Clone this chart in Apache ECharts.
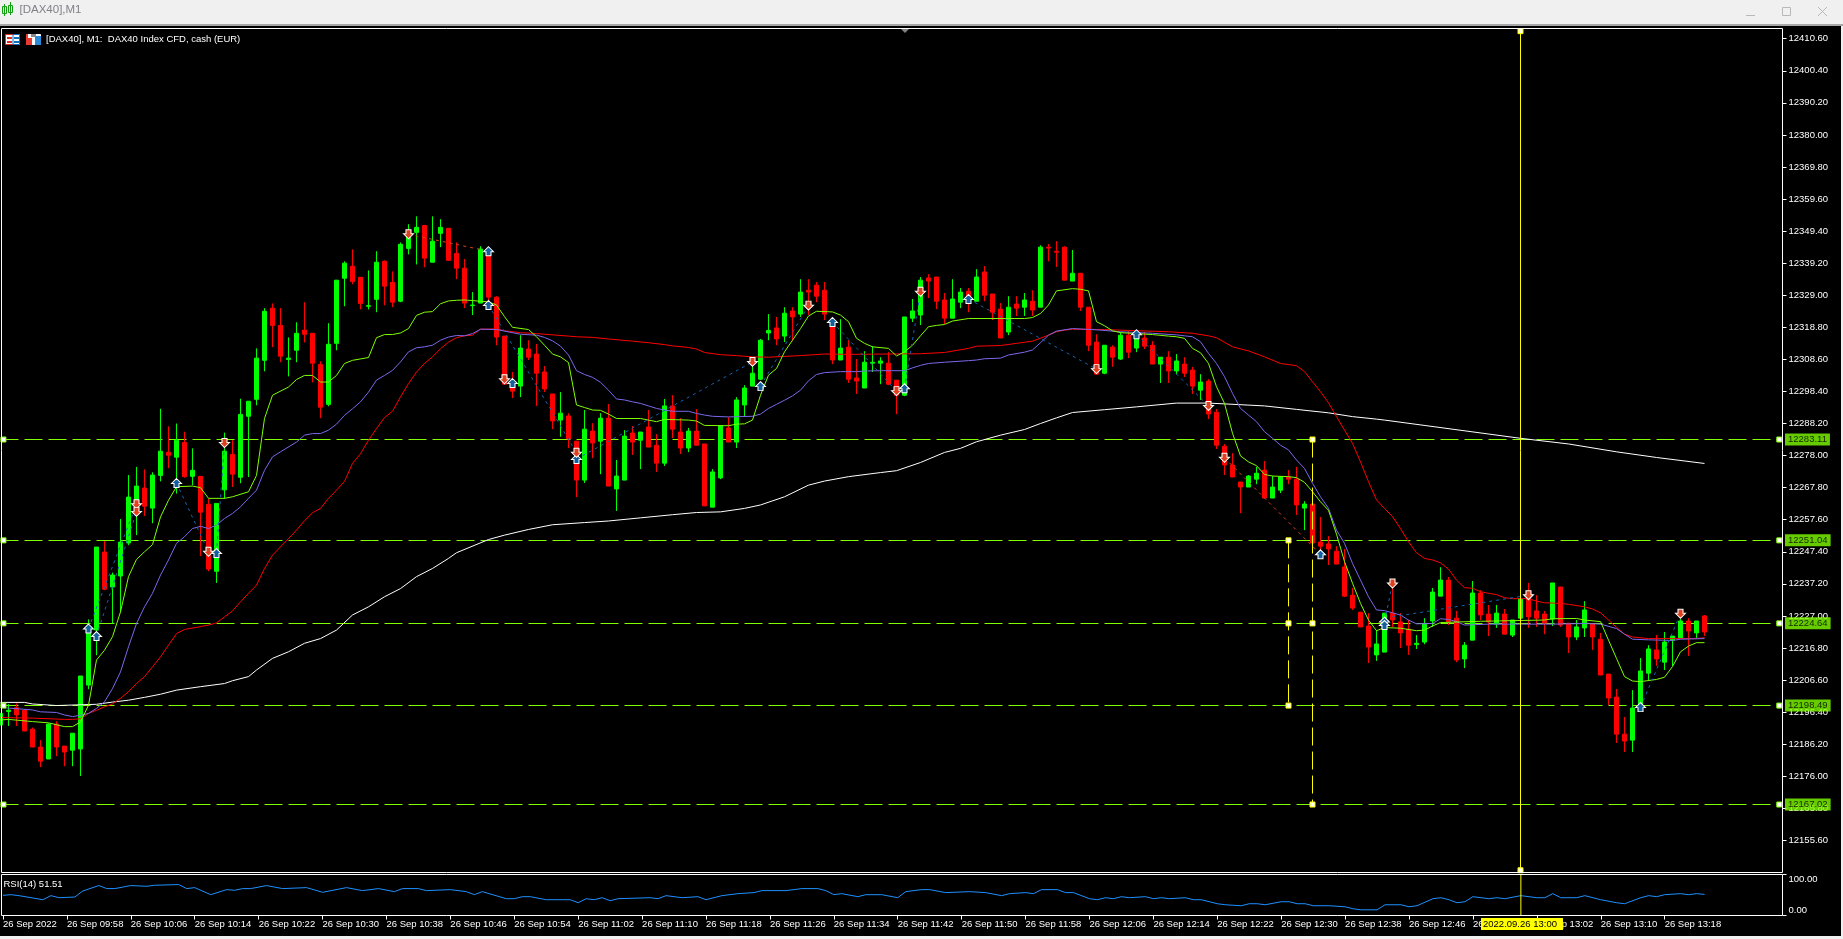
<!DOCTYPE html>
<html><head><meta charset="utf-8">
<style>html,body{margin:0;padding:0;background:#f0f0f0;overflow:hidden}#c{width:1843px;height:939px}</style>
<script src="https://cdn.jsdelivr.net/npm/echarts@6/dist/echarts.min.js"></script>
</head><body><div id="c"></div><script>
const opens=[12192.3,12196.6,12197.8,12197.0,12191.0,12185.3,12181.5,12192.6,12185.6,12184.3,
12184.7,12205.0,12222.5,12247.3,12236.2,12239.7,12250.2,12264.1,12267.7,12261.3,
12271.7,12279.1,12277.5,12282.2,12271.4,12271.4,12262.5,12241.2,12267.1,12278.4,
12271.1,12290.5,12295.9,12308.3,12324.9,12319.4,12308.6,12311.5,12317.9,12316.9,
12307.0,12294.3,12313.7,12334.4,12338.2,12334.7,12325.5,12327.7,12339.8,12333.1,
12327.1,12343.9,12349.0,12351.2,12339.5,12348.7,12350.3,12342.3,12337.6,12325.7,
12326.5,12341.8,12328.4,12316.0,12299.8,12300.1,12311.9,12310.3,12304.6,12297.6,
12289.3,12290.6,12282.6,12270.2,12285.8,12282.6,12289.9,12267.4,12270.2,12285.2,
12282.9,12287.1,12281.3,12275.6,12293.8,12285.5,12280.4,12285.8,12281.7,12261.6,
12270.9,12286.8,12282.3,12294.1,12300.1,12302.3,12317.0,12318.6,12316.0,12324.0,
12323.0,12330.6,12332.2,12330.6,12319.5,12308.4,12312.5,12302.7,12299.5,12307.4,
12307.4,12307.4,12302.0,12297.2,12321.7,12322.7,12334.5,12334.8,12327.5,12321.7,
12326.8,12330.3,12327.1,12336.4,12329.4,12324.6,12317.3,12326.2,12325.2,12327.1,
12325.2,12344.3,12343.0,12344.3,12333.5,12336.0,12325.2,12314.1,12304.2,12312.5,
12308.7,12316.3,12312.2,12315.4,12313.1,12307.1,12309.3,12304.9,12307.1,12305.2,
12298.8,12301.7,12291.8,12281.0,12275.0,12269.6,12268.0,12270.5,12273.4,12264.5,
12267.0,12271.2,12270.5,12261.3,12262.6,12250.5,12249.9,12247.6,12242.6,12233.6,
12228.2,12223.8,12214.6,12215.5,12227.9,12225.1,12222.8,12217.9,12218.7,12225.4,
12233.3,12238.4,12226.3,12213.3,12219.3,12234.3,12227.6,12224.4,12227.6,12220.9,
12226.3,12233.0,12228.6,12227.6,12226.0,12236.2,12224.7,12220.3,12223.2,12224.4,
12219.6,12208.5,12201.2,12189.4,12187.5,12198.7,12208.8,12216.2,12212.3,12219.3,
12220.0,12225.4,12221.6,12227.0];
const closes=[12196.0,12197.0,12195.5,12190.4,12185.3,12180.8,12192.6,12185.3,12183.7,12189.7,
12207.9,12222.5,12248.9,12235.5,12240.0,12250.5,12264.8,12268.3,12261.9,12271.8,
12279.4,12278.1,12282.9,12271.3,12273.3,12260.0,12241.9,12262.8,12279.4,12272.1,
12291.1,12295.3,12309.0,12323.9,12319.4,12309.6,12309.0,12316.9,12316.6,12307.4,
12293.4,12313.4,12333.8,12339.2,12333.4,12326.4,12325.7,12339.5,12331.9,12326.8,
12345.2,12348.1,12350.6,12340.8,12346.2,12350.6,12340.1,12337.6,12326.5,12325.9,
12343.7,12328.4,12315.7,12300.7,12298.5,12312.2,12309.3,12304.2,12299.2,12289.0,
12291.5,12283.3,12270.2,12286.4,12282.0,12289.9,12268.3,12271.5,12284.2,12282.3,
12285.5,12280.7,12275.6,12293.8,12286.4,12280.4,12285.8,12281.3,12262.0,12272.8,
12287.4,12282.3,12295.7,12299.5,12304.2,12314.7,12317.8,12315.1,12323.3,12322.1,
12330.0,12330.0,12328.7,12323.0,12308.4,12312.2,12302.3,12301.7,12307.7,12307.7,
12308.1,12300.7,12297.2,12322.1,12324.0,12333.8,12333.5,12327.1,12321.7,12327.8,
12330.0,12327.5,12334.8,12329.0,12323.6,12315.4,12325.2,12324.9,12327.5,12324.3,
12344.3,12344.0,12342.7,12333.8,12336.0,12325.2,12313.1,12303.9,12313.1,12309.3,
12316.3,12310.9,12316.0,12312.8,12307.1,12309.3,12304.9,12308.1,12304.2,12300.1,
12301.4,12291.2,12281.3,12275.0,12271.2,12268.0,12271.5,12272.4,12264.5,12268.0,
12271.2,12270.5,12262.3,12262.6,12250.2,12249.2,12248.3,12243.5,12233.3,12229.5,
12223.5,12217.1,12218.1,12227.9,12225.7,12221.6,12217.7,12218.3,12224.4,12234.6,
12238.4,12225.1,12213.0,12217.7,12234.3,12227.3,12225.1,12227.9,12221.2,12225.7,
12232.4,12226.7,12226.3,12224.7,12237.5,12224.1,12220.3,12223.5,12228.9,12220.3,
12208.2,12200.9,12189.4,12187.2,12197.7,12209.5,12216.5,12213.3,12218.7,12220.6,
12225.4,12222.2,12225.4,12221.9];
const lows=[12192.3,12192.0,12192.0,12190.4,12185.3,12178.9,12181.5,12182.4,12179.2,12179.2,
12176.1,12203.7,12214.5,12235.2,12224.6,12228.3,12249.5,12252.7,12258.8,12256.5,
12269.8,12274.0,12265.9,12271.0,12268.6,12246.0,12241.2,12237.5,12264.3,12268.0,
12269.2,12271.2,12294.0,12304.8,12312.5,12307.7,12303.2,12307.7,12314.0,12301.3,
12289.9,12293.7,12311.5,12325.5,12332.5,12324.5,12324.5,12323.6,12325.8,12325.2,
12326.8,12342.0,12338.8,12337.9,12339.5,12344.3,12340.1,12334.1,12324.9,12322.7,
12326.5,12325.9,12313.1,12300.7,12296.3,12296.6,12308.4,12293.8,12298.2,12286.4,
12284.0,12280.4,12264.8,12269.3,12277.2,12272.1,12268.3,12260.4,12270.2,12278.2,
12273.7,12280.7,12272.8,12274.7,12283.6,12278.5,12279.1,12281.3,12262.0,12261.6,
12270.5,12282.3,12280.4,12290.6,12300.1,12302.0,12314.7,12313.1,12314.1,12314.4,
12322.1,12322.7,12326.8,12321.1,12307.1,12308.4,12301.1,12297.6,12299.5,12304.6,
12300.7,12300.4,12291.2,12296.9,12320.5,12319.5,12328.1,12324.6,12319.8,12321.7,
12324.9,12323.6,12327.1,12327.1,12321.1,12315.4,12316.3,12322.4,12322.4,12322.4,
12325.2,12339.8,12338.0,12333.8,12333.5,12324.0,12311.2,12303.9,12303.9,12306.2,
12308.4,12309.0,12310.9,12311.9,12307.1,12301.1,12301.1,12303.9,12303.0,12297.6,
12295.7,12289.6,12280.1,12271.8,12271.2,12259.7,12268.0,12268.9,12264.5,12264.5,
12266.1,12268.9,12259.1,12254.3,12250.2,12245.4,12243.2,12243.5,12233.0,12228.9,
12223.5,12212.0,12212.7,12215.5,12223.5,12216.8,12214.6,12216.5,12218.0,12223.5,
12233.3,12224.1,12212.3,12210.4,12219.3,12225.7,12220.6,12223.2,12221.2,12220.3,
12225.1,12223.2,12223.5,12221.2,12223.8,12223.5,12215.2,12219.3,12220.3,12216.2,
12208.2,12198.7,12186.6,12183.7,12183.7,12198.7,12206.6,12211.1,12209.8,12211.1,
12220.0,12214.3,12220.0,12220.6];
const highs=[12196.0,12199.0,12199.2,12197.3,12191.5,12187.5,12192.8,12193.5,12185.6,12189.7,
12207.9,12225.9,12248.9,12250.8,12240.8,12257.8,12271.8,12274.4,12273.6,12272.7,
12292.9,12287.3,12288.2,12285.6,12280.3,12271.4,12264.3,12262.8,12285.3,12282.9,
12296.1,12295.3,12312.1,12324.9,12326.4,12324.9,12315.6,12320.4,12326.8,12316.9,
12308.0,12320.1,12333.8,12339.8,12343.6,12334.7,12336.9,12343.0,12340.1,12336.6,
12345.8,12351.6,12354.1,12351.2,12354.1,12353.2,12350.3,12345.8,12340.5,12330.0,
12344.6,12343.4,12328.7,12316.0,12304.6,12316.3,12314.7,12313.5,12306.5,12297.6,
12298.2,12291.5,12282.6,12292.5,12288.3,12291.5,12294.4,12276.6,12286.1,12287.4,
12285.5,12292.5,12284.8,12296.0,12297.2,12289.9,12286.8,12292.8,12281.7,12273.7,
12287.4,12290.2,12296.6,12300.4,12306.8,12315.1,12323.0,12322.1,12325.2,12325.2,
12334.1,12334.1,12333.2,12333.2,12321.6,12321.4,12314.7,12308.7,12311.2,12312.8,
12309.3,12310.9,12302.0,12322.1,12327.8,12334.8,12335.7,12334.8,12329.7,12334.1,
12331.3,12331.3,12337.3,12338.3,12329.4,12326.5,12328.7,12328.7,12329.7,12330.6,
12344.9,12345.3,12346.2,12344.6,12343.4,12336.0,12325.2,12316.6,12313.1,12313.1,
12317.3,12317.6,12317.9,12317.3,12314.4,12309.3,12311.2,12310.3,12309.3,12306.2,
12303.9,12302.3,12292.8,12281.7,12278.8,12269.6,12271.8,12274.4,12276.3,12271.5,
12271.5,12273.4,12274.4,12263.5,12262.6,12258.5,12252.4,12249.2,12248.3,12235.9,
12228.2,12227.9,12222.5,12227.9,12236.8,12227.9,12225.7,12220.9,12226.3,12235.9,
12242.5,12239.4,12228.6,12218.7,12238.1,12235.2,12230.5,12230.5,12229.2,12225.7,
12232.4,12237.5,12233.6,12228.6,12237.5,12236.2,12224.7,12225.7,12231.7,12224.4,
12221.6,12208.5,12203.8,12194.9,12203.4,12213.6,12217.7,12220.9,12221.9,12220.6,
12226.0,12226.3,12225.4,12227.3];

const limeLine=[[0,12193.9],[1,12194.1],[4,12193.4],[6,12193.0],[8,12191.8],[9,12191.8],[10,12193.3],[11,12198.6],[12,12213.0],[13,12216.1],[14,12220.4],[15,12228.3],[16,12239.5],[17,12245.0],[18,12247.4],[19,12249.7],[20,12258.5],[21,12263.8],[22,12268.1],[24,12268.3],[25,12267.8],[26,12264.4],[28,12264.4],[29,12264.9],[31,12266.5],[32,12271.7],[33,12289.8],[34,12297.2],[36,12299.8],[37,12302.2],[38,12303.5],[39,12303.5],[40,12301.4],[41,12301.4],[42,12303.5],[43,12307.3],[44,12308.3],[46,12309.2],[47,12315.5],[48,12316.5],[49,12316.5],[50,12317.0],[51,12318.4],[52,12322.6],[53,12323.6],[54,12323.8],[55,12326.3],[56,12327.2],[57,12327.4],[58,12327.5],[60,12327.1],[61,12326.9],[62,12325.9],[63,12322.2],[64,12318.8],[66,12318.1],[67,12315.8],[68,12313.1],[69,12310.3],[70,12309.4],[71,12307.6],[72,12294.1],[73,12293.3],[74,12292.5],[75,12292.4],[76,12291.2],[77,12289.8],[80,12289.8],[82,12288.8],[83,12289.5],[86,12289.3],[87,12289.0],[88,12287.6],[91,12287.5],[92,12288.0],[93,12288.1],[94,12289.3],[95,12297.2],[96,12303.6],[97,12305.7],[98,12311.0],[99,12314.7],[100,12318.4],[101,12322.4],[102,12323.9],[104,12323.7],[105,12322.7],[106,12320.6],[107,12315.3],[108,12313.7],[109,12312.6],[111,12312.1],[112,12309.7],[113,12311.0],[114,12313.1],[115,12316.1],[116,12319.0],[117,12319.4],[118,12319.7],[119,12320.8],[121,12321.6],[128,12321.6],[129,12321.9],[130,12323.2],[131,12325.9],[132,12330.4],[134,12331.1],[135,12330.9],[136,12330.4],[137,12320.6],[138,12319.3],[139,12317.7],[140,12317.1],[144,12316.5],[146,12316.0],[147,12315.8],[148,12315.3],[149,12312.1],[150,12310.7],[151,12307.3],[152,12299.9],[153,12294.6],[154,12285.1],[155,12277.9],[156,12276.0],[157,12274.8],[158,12272.0],[159,12271.5],[161,12271.3],[162,12271.0],[163,12269.5],[164,12266.5],[165,12263.3],[166,12260.6],[167,12253.0],[168,12244.3],[169,12237.4],[170,12231.0],[171,12225.7],[172,12222.3],[173,12223.3],[175,12223.1],[177,12222.3],[178,12222.5],[179,12223.8],[180,12224.9],[185,12225.3],[193,12225.7],[194,12226.1],[197,12226.2],[198,12225.7],[200,12225.2],[201,12219.3],[202,12213.5],[203,12207.7],[204,12206.3],[205,12206.1],[207,12206.8],[208,12207.5],[209,12210.9],[210,12215.6],[211,12217.4],[212,12218.5],[213,12218.5]];
const purpleLine=[[0,12197.9],[4,12197.1],[5,12196.5],[7,12196.3],[8,12195.5],[9,12195.0],[10,12195.4],[11,12196.0],[12,12197.6],[13,12199.7],[14,12203.9],[15,12209.2],[16,12217.2],[17,12224.6],[18,12229.9],[19,12234.2],[20,12240.0],[21,12244.8],[22,12250.1],[23,12252.2],[24,12254.8],[25,12255.5],[26,12254.8],[27,12255.9],[28,12258.0],[29,12259.6],[30,12261.7],[31,12264.4],[32,12267.0],[33,12273.3],[34,12277.6],[35,12279.2],[37,12282.3],[38,12284.5],[39,12285.0],[40,12285.0],[41,12286.1],[42,12288.0],[43,12290.8],[44,12292.9],[45,12295.1],[46,12298.2],[47,12302.0],[48,12303.5],[49,12305.1],[50,12307.8],[51,12311.0],[52,12312.3],[53,12312.6],[54,12313.1],[55,12314.7],[56,12315.7],[57,12316.2],[58,12316.1],[59,12316.8],[60,12318.2],[62,12318.1],[63,12317.6],[65,12316.6],[67,12316.3],[68,12315.6],[69,12314.5],[70,12312.8],[71,12310.0],[72,12305.0],[73,12303.8],[74,12302.9],[75,12301.3],[76,12298.8],[77,12296.0],[78,12295.7],[79,12295.1],[80,12294.6],[81,12293.8],[82,12293.0],[83,12292.5],[84,12292.1],[86,12292.1],[87,12291.4],[88,12290.9],[89,12290.5],[91,12290.3],[94,12290.5],[95,12291.2],[96,12293.0],[97,12294.3],[98,12295.6],[99,12297.0],[100,12298.8],[101,12301.8],[102,12303.8],[103,12304.4],[105,12304.7],[107,12304.7],[108,12304.9],[110,12305.0],[113,12305.0],[114,12305.9],[115,12306.7],[116,12307.3],[118,12307.7],[121,12308.2],[122,12308.4],[123,12308.8],[125,12309.0],[126,12310.0],[128,12310.9],[129,12311.6],[130,12313.9],[131,12316.3],[132,12317.6],[134,12318.4],[137,12318.0],[140,12317.4],[144,12316.9],[147,12316.4],[148,12316.1],[149,12315.8],[150,12314.2],[151,12310.5],[152,12307.3],[153,12303.1],[154,12297.8],[155,12293.0],[156,12290.9],[157,12288.8],[158,12285.6],[159,12283.5],[160,12281.3],[161,12279.8],[162,12276.6],[163,12273.9],[164,12269.2],[165,12264.9],[166,12261.2],[167,12254.3],[168,12250.1],[169,12243.7],[170,12238.4],[171,12233.1],[172,12228.9],[173,12228.7],[174,12228.0],[175,12227.3],[176,12225.7],[177,12224.5],[179,12224.6],[180,12226.1],[181,12225.9],[182,12225.2],[183,12224.1],[186,12224.4],[194,12224.4],[198,12224.6],[200,12224.4],[202,12223.0],[203,12221.2],[204,12219.6],[206,12219.4],[209,12219.2],[210,12219.6],[213,12219.8]];
const redLine=[[0,12194.7],[4,12194.5],[8,12194.1],[9,12194.1],[10,12194.3],[11,12196.0],[12,12197.0],[13,12198.1],[14,12199.0],[15,12200.8],[16,12202.9],[17,12205.5],[18,12207.7],[19,12210.8],[20,12214.0],[21,12217.7],[22,12221.4],[23,12222.7],[25,12223.6],[26,12224.1],[27,12224.8],[28,12226.7],[29,12228.6],[30,12231.5],[31,12234.2],[32,12236.8],[33,12242.1],[34,12246.3],[35,12249.0],[36,12251.6],[37,12254.3],[38,12257.3],[39,12259.8],[40,12261.2],[41,12264.4],[42,12267.0],[43,12269.8],[44,12275.5],[45,12278.6],[46,12282.9],[47,12286.6],[48,12290.1],[49,12292.1],[50,12296.7],[51,12300.9],[52,12304.6],[53,12307.3],[54,12309.4],[55,12312.0],[56,12314.1],[57,12315.5],[58,12316.1],[59,12316.3],[60,12318.2],[62,12318.3],[63,12317.7],[65,12317.1],[67,12316.8],[71,12316.0],[72,12315.8],[74,12315.6],[76,12315.1],[79,12314.4],[81,12313.9],[83,12313.3],[84,12312.9],[86,12312.4],[87,12311.9],[88,12310.8],[90,12310.1],[92,12309.8],[94,12309.4],[96,12309.3],[100,12309.8],[103,12310.3],[106,12310.2],[115,12310.4],[118,12310.8],[121,12312.1],[122,12312.8],[125,12313.0],[127,12313.7],[129,12314.4],[131,12316.3],[132,12317.4],[133,12317.9],[134,12318.2],[138,12318.1],[141,12317.8],[146,12317.4],[149,12316.9],[151,12316.1],[152,12315.5],[154,12312.6],[156,12311.3],[158,12309.4],[160,12307.3],[162,12306.6],[163,12304.7],[164,12301.5],[165,12298.3],[166,12294.8],[167,12290.4],[168,12286.1],[169,12281.9],[170,12276.0],[171,12269.7],[172,12263.9],[173,12261.2],[174,12258.6],[175,12254.8],[176,12250.6],[177,12247.1],[178,12245.3],[179,12244.8],[180,12243.9],[181,12241.9],[182,12238.4],[183,12236.0],[184,12235.8],[185,12234.7],[186,12234.2],[187,12233.8],[188,12232.8],[189,12232.5],[191,12232.5],[192,12231.7],[193,12231.2],[195,12231.0],[196,12230.7],[198,12229.9],[199,12229.2],[200,12228.0],[201,12225.7],[202,12223.4],[203,12221.2],[204,12220.3],[206,12219.8],[209,12219.8],[212,12219.8],[213,12220.1]];
const whiteLine=[[0,12199.5],[3,12199.5],[4,12199.0],[7,12198.5],[12,12198.9],[14,12199.6],[16,12200.2],[18,12201.1],[20,12202.1],[22,12203.4],[25,12204.5],[28,12205.5],[29,12206.4],[31,12207.7],[32,12209.8],[34,12213.5],[36,12215.6],[38,12218.3],[40,12219.8],[42,12222.5],[44,12227.3],[46,12229.9],[48,12233.1],[50,12235.7],[52,12239.5],[54,12242.1],[56,12245.3],[57,12247.1],[61,12251.3],[63,12252.7],[66,12254.5],[69,12256.0],[73,12256.7],[76,12257.2],[80,12258.2],[84,12259.2],[87,12259.9],[90,12260.1],[93,12261.2],[95,12262.3],[98,12264.9],[101,12268.6],[103,12269.9],[106,12271.3],[110,12272.6],[112,12273.2],[115,12275.8],[118,12279.0],[120,12280.3],[122,12282.4],[125,12284.5],[128,12286.3],[130,12288.2],[132,12290.0],[134,12291.7],[138,12292.6],[142,12293.5],[147,12294.7],[151,12294.7],[158,12293.8],[162,12292.7],[166,12291.6],[169,12290.4],[172,12289.6],[173,12289.3],[190,12283.5],[196,12281.7],[202,12279.2],[207,12277.4],[213,12275.5]];
const rsiLine=[[0,49.2],[1,50.8],[2,48.4],[5,38.5],[6,48.4],[7,43.4],[9,45.1],[10,59.8],[12,73.0],[13,65.6],[14,65.6],[16,73.0],[18,71.3],[19,73.8],[22,75.4],[23,65.6],[24,68.0],[26,50.8],[28,63.1],[29,61.5],[30,65.6],[31,65.6],[33,73.0],[35,65.6],[38,68.0],[40,56.6],[43,68.0],[45,60.7],[47,65.6],[49,58.2],[50,65.6],[52,65.6],[53,60.7],[56,63.1],[58,58.2],[59,50.8],[60,58.2],[63,41.0],[64,41.0],[65,45.9],[66,45.9],[68,38.5],[71,38.5],[72,31.1],[73,41.0],[74,38.5],[75,43.4],[76,36.1],[77,41.0],[81,43.4],[82,41.0],[83,48.4],[85,43.4],[87,45.9],[88,38.5],[90,48.4],[92,53.3],[94,55.8],[95,60.7],[98,60.7],[100,65.6],[102,65.6],[103,60.7],[104,50.8],[105,53.3],[107,45.9],[108,50.8],[110,50.8],[112,43.4],[113,58.2],[115,63.1],[116,63.1],[118,55.8],[121,58.2],[123,55.8],[125,48.4],[126,53.3],[128,55.8],[129,53.3],[130,63.1],[132,63.1],[133,55.8],[134,55.8],[136,41.0],[137,38.5],[138,43.4],[139,41.0],[140,45.9],[141,43.4],[143,45.9],[144,41.0],[145,43.4],[146,41.0],[148,43.4],[149,38.5],[150,38.5],[152,28.7],[153,26.2],[155,23.8],[156,28.7],[157,28.7],[158,26.2],[160,33.6],[161,33.6],[162,28.7],[163,28.7],[164,23.8],[166,23.8],[168,21.3],[169,16.4],[170,13.9],[172,13.9],[173,26.2],[175,26.2],[176,21.3],[177,23.8],[179,41.0],[180,43.4],[181,38.5],[182,31.1],[183,33.6],[184,45.9],[186,41.0],[187,43.4],[188,41.0],[190,48.4],[192,43.4],[193,43.4],[194,53.3],[195,43.4],[197,43.4],[198,48.4],[200,38.5],[202,31.1],[203,28.7],[205,43.4],[206,48.4],[207,45.9],[208,50.8],[210,53.3],[211,50.8],[212,53.3],[213,51.51]];

const levels=[12283.11,12251.04,12224.64,12198.49,12167.02];
const priceTicks=[12410.6,12400.4,12390.2,12380.0,12369.8,12359.6,12349.4,12339.2,12329.0,12318.8,12308.6,12298.4,12288.2,12278.0,12267.8,12257.6,12247.4,12237.2,12227.0,12216.8,12206.6,12196.4,12186.2,12176.0,12165.8,12155.6];
const rsiTicks=[0,100];
const timeTickBars=[0,8,16,24,32,40,48,56,64,72,80,88,96,104,112,120,128,136,144,152,160,168,176,184,192,200,208];
const timeTickLabels=['26 Sep 2022','26 Sep 09:58','26 Sep 10:06','26 Sep 10:14','26 Sep 10:22','26 Sep 10:30','26 Sep 10:38','26 Sep 10:46','26 Sep 10:54','26 Sep 11:02','26 Sep 11:10','26 Sep 11:18','26 Sep 11:26','26 Sep 11:34','26 Sep 11:42','26 Sep 11:50','26 Sep 11:58','26 Sep 12:06','26 Sep 12:14','26 Sep 12:22','26 Sep 12:30','26 Sep 12:38','26 Sep 12:46','26 Sep 12:54','26 Sep 13:02','26 Sep 13:10','26 Sep 13:18'];
const upArrows=[[11,12223.0],[12,12220.6],[22,12269.3],[27,12247.0],[61,12343.0],[61,12325.9],[64,12301.1],[72,12276.9],[95,12300.1],[104,12320.5],[113,12299.4],[121,12327.8],[142,12316.6],[165,12246.6],[173,12225.2],[173,12224.1],[205,12198.0]];
const downArrows=[[17,12262.5],[17,12260.1],[26,12247.4],[28,12282.0],[51,12348.4],[63,12302.3],[72,12278.9],[94,12307.8],[101,12325.7],[112,12298.5],[115,12330.1],[137,12305.5],[151,12293.8],[153,12277.3],[174,12237.3],[191,12233.6],[210,12227.7]];
const zigzagBlue=[[11,12223.0],[17,12262.5],null,[12,12220.6],[17,12260.1],null,[22,12269.3],[26,12247.4],null,[27,12247.0],[28,12282.0],null,[61,12325.9],[72,12278.9],null,[72,12276.9],[94,12307.8],null,[95,12300.1],[101,12325.7],null,[104,12320.5],[112,12298.5],null,[113,12299.4],[115,12330.1],null,[121,12327.8],[137,12305.5],null,[142,12316.6],[151,12293.8],null,[173,12225.2],[174,12237.3],null,[174,12226.7],[191,12233.6],null,[205,12198.0],[210,12227.7]];
const zigzagRed=[[51,12348.4],[61,12343.0],null,[153,12277.3],[165,12246.6]];
const priceTop=12413.844, priceBottom=12145.398, barsMax=222.75;
const crossBar=190, crossTop=12413.0, crossBottom=12146.1;
const dashed164=[[164,12283.11],[164,12167.02]];
const dashed161=[[161,12251.04],[161,12198.49]];
const yellowHandles=[[crossBar,crossTop],[crossBar,crossBottom],[164,12283.11],[164,12224.64],[164,12167.02],[161,12251.04],[161,12224.64],[161,12198.49]];
const levelHandleBars=[0.37,222.35];

const F='"Liberation Sans",sans-serif', FS=9.5;
const LINE=(name,data,color,extra)=>Object.assign({name,type:'line',data,showSymbol:false,symbol:'none',silent:true,animation:false,smooth:false,lineStyle:{color,width:1},itemStyle:{color},z:5,connectNulls:false},extra||{});
const chart=echarts.init(document.getElementById('c'),null,{renderer:'canvas',width:1843,height:939});
const upPath='path://M5 0L10 5L7.5 5L7.5 9L2.5 9L2.5 5L0 5Z', downPath='path://M2.5 0L7.5 0L7.5 4L10 4L5 9L0 4L2.5 4Z';
chart.setOption({
 animation:false,
 backgroundColor:'transparent',
 grid:[{left:0.5,top:28.5,width:1782,height:844,show:false},{left:0.5,top:874.5,width:1782,height:41,show:false}],
 xAxis:[
  {type:'value',gridIndex:0,min:0,max:barsMax,show:false,splitLine:{show:false}},
  {type:'value',gridIndex:1,min:0,max:barsMax,splitLine:{show:false},axisLine:{show:false,onZero:false},
   axisTick:{show:true,length:4,lineStyle:{color:'#fff'},customValues:timeTickBars},
   axisLabel:{show:true,customValues:timeTickBars,color:'#fff',fontFamily:F,fontSize:FS,align:'left',margin:4,formatter:v=>timeTickLabels[timeTickBars.indexOf(v)]||''}}
 ],
 yAxis:[
  {type:'value',gridIndex:0,position:'right',min:priceBottom,max:priceTop,splitLine:{show:false},axisLine:{show:false,onZero:false},
   axisTick:{show:true,length:4,lineStyle:{color:'#fff'},customValues:priceTicks},
   axisLabel:{show:true,customValues:priceTicks,color:'#fff',fontFamily:F,fontSize:FS,margin:6,formatter:v=>v.toFixed(2)}},
  {type:'value',gridIndex:1,position:'right',min:0,max:100,splitLine:{show:false},axisLine:{show:false,onZero:false},
   axisTick:{show:true,length:4,lineStyle:{color:'#fff'},customValues:rsiTicks},
   axisLabel:{show:true,customValues:rsiTicks,color:'#fff',fontFamily:F,fontSize:FS,margin:6,verticalAlignMinLabel:'bottom',verticalAlignMaxLabel:'top',formatter:v=>v.toFixed(2)}}
 ],
 series:[
  {name:'DAX40',type:'candlestick',z:3,silent:true,barWidth:4,encode:{x:0,y:[1,2,3,4]},
   data:opens.map((o,i)=>[i,o,closes[i],lows[i],highs[i]]),
   itemStyle:{color:'#00ff00',color0:'#ff0000',borderColor:'#00ff00',borderColor0:'#ff0000',borderWidth:1},
   markLine:{silent:true,z:1,symbol:'none',animation:false,
    lineStyle:{color:'#7FFF00',type:[18,6],width:1},
    label:{show:false},
    data:levels.map(v=>({yAxis:v}))}},
  LINE('MA long',whiteLine,'#ffffff'),
  LINE('MA slow',redLine,'#ff0000'),
  LINE('MA medium',purpleLine,'#7B68EE'),
  LINE('MA fast',limeLine,'#7FFF00'),
  LINE('ZigZag up',zigzagBlue,'#1464b4',{lineStyle:{color:'#1464b4',width:1,type:[3,4]},z:6}),
  LINE('ZigZag down',zigzagRed,'#e0401e',{lineStyle:{color:'#e0401e',width:1,type:[3,4]},z:6}),
  LINE('Crosshair',[[crossBar,crossTop],[crossBar,crossBottom]],'#ffff00',{z:7}),
  LINE('Span 164',dashed164,'#ffff00',{lineStyle:{color:'#ffff00',width:1,type:[18,6]},z:7}),
  LINE('Span 161',dashed161,'#ffff00',{lineStyle:{color:'#ffff00',width:1,type:[18,6]},z:7}),
  {name:'Up arrows',type:'scatter',silent:true,z:8,symbol:upPath,symbolSize:[10,9],data:upArrows,itemStyle:{color:'#14609c',borderColor:'#fff',borderWidth:1,opacity:1}},
  {name:'Down arrows',type:'scatter',silent:true,z:8,symbol:downPath,symbolSize:[10,9],data:downArrows,itemStyle:{color:'#e0401e',borderColor:'#fff',borderWidth:1,opacity:1}},
  {name:'Level handles',type:'scatter',silent:true,z:9,symbol:'rect',symbolSize:5,clip:false,
   data:levels.flatMap(v=>levelHandleBars.map(b=>[b,v])),itemStyle:{color:'#fff',borderColor:'#7FFF00',borderWidth:1,opacity:1}},
  {name:'Level labels',type:'scatter',silent:true,z:15,symbol:'rect',symbolSize:1,clip:false,
   data:levels.map(v=>[barsMax,v]),itemStyle:{color:'transparent'},
   label:{show:true,position:'right',distance:2,color:'#000',backgroundColor:'#7FFF00',fontFamily:F,fontSize:FS,padding:[1,3,1,3],formatter:p=>p.value[1].toFixed(2)}},
  {name:'Yellow handles',type:'scatter',silent:true,z:9,symbol:'rect',symbolSize:5,clip:false,data:yellowHandles,itemStyle:{color:'#fff',borderColor:'#ffff00',borderWidth:1,opacity:1}},
  LINE('RSI',rsiLine,'#1E90FF',{xAxisIndex:1,yAxisIndex:1}),
  LINE('Crosshair RSI',[[crossBar,0],[crossBar,100]],'#ffff00',{xAxisIndex:1,yAxisIndex:1,z:7})
 ],
 graphic:[
  {type:'rect',z:-5,silent:true,shape:{x:0,y:0,width:1843,height:24},style:{fill:'#f0f0f0'}},
  {type:'rect',z:-5,silent:true,shape:{x:0,y:24,width:1843,height:2},style:{fill:'#a8a8a8'}},
  {type:'rect',z:-5,silent:true,shape:{x:0,y:26,width:1841,height:910},style:{fill:'#000'}},
  {type:'rect',z:20,silent:true,shape:{x:1.5,y:28.5,width:1781,height:844},style:{fill:'none',stroke:'#fff',lineWidth:1}},
  {type:'rect',z:20,silent:true,shape:{x:1.5,y:874.5,width:1781,height:41},style:{fill:'none',stroke:'#fff',lineWidth:1}},
  {type:'rect',z:21,silent:true,shape:{x:2.5,y:6.5,width:4,height:7},style:{fill:'none',stroke:'#10a010',lineWidth:1}},
  {type:'line',z:21,silent:true,shape:{x1:4.5,y1:4,x2:4.5,y2:16},style:{stroke:'#10a010',lineWidth:1}},
  {type:'rect',z:21,silent:true,shape:{x:8.5,y:5.5,width:4,height:7},style:{fill:'none',stroke:'#10a010',lineWidth:1}},
  {type:'line',z:21,silent:true,shape:{x1:10.5,y1:2,x2:10.5,y2:15},style:{stroke:'#10a010',lineWidth:1}},
  {type:'text',z:21,silent:true,style:{x:19.5,y:10,text:'[DAX40],M1',fill:'#808088',font:'11.5px "Liberation Sans",sans-serif',verticalAlign:'middle'}},
  {type:'line',z:21,silent:true,shape:{x1:1746,y1:15.5,x2:1755,y2:15.5},style:{stroke:'#b8b8b8',lineWidth:1}},
  {type:'rect',z:21,silent:true,shape:{x:1782.5,y:7.5,width:8,height:8},style:{fill:'none',stroke:'#b8b8b8',lineWidth:1}},
  {type:'line',z:21,silent:true,shape:{x1:1818,y1:7,x2:1827,y2:16},style:{stroke:'#b8b8b8',lineWidth:1}},
  {type:'line',z:21,silent:true,shape:{x1:1827,y1:7,x2:1818,y2:16},style:{stroke:'#b8b8b8',lineWidth:1}},
  {type:'rect',z:21,silent:true,shape:{x:5.5,y:34.5,width:14,height:10},style:{fill:'#fff',stroke:'#e02a20',lineWidth:1}},
  {type:'rect',z:21,silent:true,shape:{x:13,y:34.5,width:6.5,height:10},style:{fill:'#fff',stroke:'#1070c0',lineWidth:1}},
  {type:'rect',z:21,silent:true,shape:{x:7,y:37,width:5,height:2},style:{fill:'#e02a20'}},
  {type:'rect',z:21,silent:true,shape:{x:7,y:41,width:5,height:2},style:{fill:'#e02a20'}},
  {type:'rect',z:21,silent:true,shape:{x:14,y:37,width:5,height:2},style:{fill:'#1070c0'}},
  {type:'rect',z:21,silent:true,shape:{x:14,y:41,width:5,height:2},style:{fill:'#1070c0'}},
  {type:'rect',z:21,silent:true,shape:{x:26.5,y:34.5,width:14,height:10},style:{fill:'#fff',stroke:'#fff',lineWidth:1}},
  {type:'rect',z:21,silent:true,shape:{x:26,y:38,width:6,height:7},style:{fill:'#e83a30'}},
  {type:'rect',z:21,silent:true,shape:{x:35,y:36,width:6,height:9},style:{fill:'#2a8ad8'}},
  {type:'rect',z:21,silent:true,shape:{x:26,y:34,width:2,height:4},style:{fill:'#e83a30'}},
  {type:'rect',z:21,silent:true,shape:{x:31,y:34,width:5,height:3},style:{fill:'#888'}},
  {type:'text',z:21,silent:true,style:{x:46,y:39.5,text:'[DAX40], M1:  DAX40 Index CFD, cash (EUR)',fill:'#fff',font:FS+'px '+F,verticalAlign:'middle'}},
  {type:'polygon',z:21,silent:true,shape:{points:[[901,29],[909,29],[905,33]]},style:{fill:'#808080'}},
  {type:'text',z:21,silent:true,style:{x:3.5,y:884,text:'RSI(14) 51.51',fill:'#fff',font:FS+'px '+F,verticalAlign:'middle'}},
  {type:'text',z:30,silent:true,style:{x:1481,y:918,text:'2022.09.26 13:00',fill:'#000',font:FS+'px '+F,backgroundColor:'#ffff00',padding:[1,2,1,2],verticalAlign:'top',width:78}}
 ]
});
</script></body></html>
